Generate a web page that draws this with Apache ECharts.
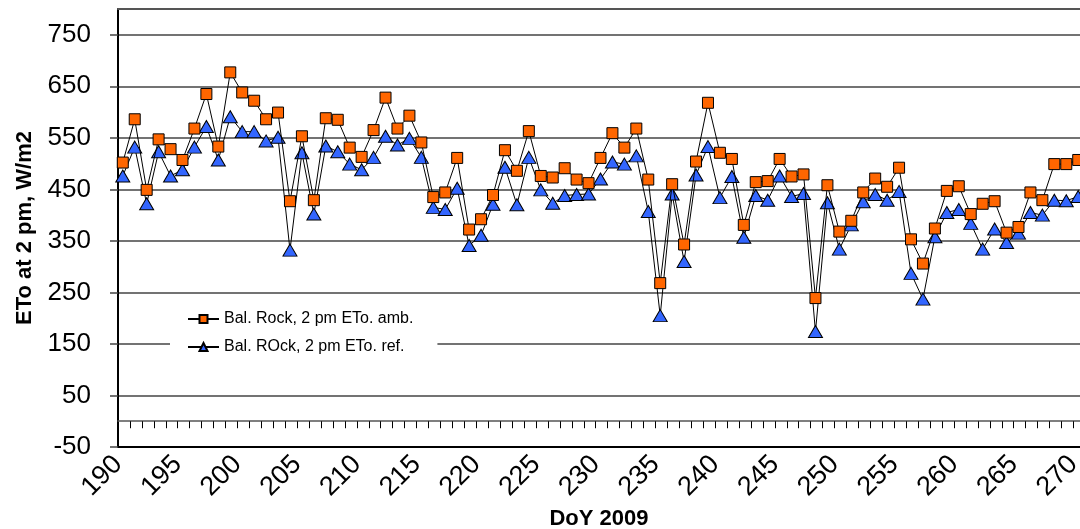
<!DOCTYPE html>
<html>
<head>
<meta charset="utf-8">
<script src="https://cdn.jsdelivr.net/npm/echarts@6/dist/echarts.min.js"></script>
<style>
html,body{margin:0;padding:0;background:#fff;}
#chart{width:1080px;height:529px;}
</style>
</head>
<body>
<div id="chart"></div>
<script>
// day of year, 2009
var days = [190,191,192,193,194,195,196,197,198,199,
	200,201,202,203,204,205,206,207,208,209,
	210,211,212,213,214,215,216,217,218,219,
	220,221,222,223,224,225,226,227,228,229,
	230,231,232,233,234,235,236,237,238,239,
	240,241,242,243,244,245,246,247,248,249,
	250,251,252,253,254,255,256,257,258,259,
	260,261,262,263,264,265,266,267,268,269,270];
// 2 pm reading, fraction of the day as plotted
var timeOfDay = 0.4;

// Bal. Rock, 2 pm ETo, ambient (W/m2)
var etoAmb = [502,586,449,547,528,507,568,635,533,677,
	638,622,586,599,427,553,429,588,585,531,
	513,565,628,568,593,541,435,444,511,372,
	392,439,526,486,563,476,473,491,469,462,
	511,559,531,568,469,268,460,343,504,618,
	521,509,381,464,466,509,475,479,239,458,
	368,389,444,471,455,492,353,306,374,447,
	456,402,422,427,366,377,444,429,499,499,507];
// Bal. ROck, 2 pm ETo, reference (W/m2)
var etoRef = [476,532,422,523,476,488,532,572,507,591,
	562,562,544,551,332,521,402,534,523,499,
	488,512,553,536,549,512,415,411,452,341,
	361,421,493,420,512,449,423,438,440,441,
	470,503,499,515,407,205,441,310,478,533,
	434,475,357,438,429,476,436,442,174,424,
	334,381,426,440,429,446,287,237,358,405,
	411,384,334,373,347,365,405,400,429,428,436];

var yTicks = [-50,50,150,250,350,450,550,650,750];
var xLabels = [190,195,200,205,210,215,220,225,230,235,240,245,250,255,260,265,270];
var dayTicks = days.slice(1);

var font = "'Liberation Sans', Arial, sans-serif";

function pairs(vals){
	var out = [];
	for(var i = 0;i<days.length;i++){
		out.push([days[i] + timeOfDay, vals[i]]);
	}
	return out;
}

var mychart = echarts.init(document.getElementById('chart'), null, {renderer:'canvas'});
var option = {
	animation:false,
	textStyle:{fontFamily:font, color:'#000'},
	grid:{left:118, right:0, top:9, bottom:82, containLabel:false, outerBoundsMode:'none'},
	legend:{
		orient:'vertical',
		left:170,
		top:305,
		padding:[6,24,6,17],
		backgroundColor:'#fff',
		itemWidth:31,
		itemHeight:10,
		itemGap:12,
		textStyle:{fontSize:16, color:'#000', fontFamily:font},
		data:['Bal. Rock, 2 pm ETo. amb.','Bal. ROck, 2 pm ETo. ref.']
	},
	xAxis:[{
		type:'value',
		min:190,
		max:270.55,
		position:'bottom',
		axisLine:{onZero:false, lineStyle:{color:'#000', width:2}},
		axisTick:{show:false},
		axisLabel:{customValues:xLabels, rotate:45, fontSize:27, color:'#000', margin:13, fontFamily:font},
		splitLine:{show:false},
		name:'DoY 2009',
		nameLocation:'middle',
		nameGap:60,
		nameTextStyle:{fontWeight:'bold', fontSize:22, color:'#000', fontFamily:font}
	},{
		// line at zero with the day ticks
		type:'value',
		min:190,
		max:270.55,
		position:'bottom',
		axisLine:{show:true, onZero:true, lineStyle:{color:'#555', width:1.5}},
		axisTick:{show:true, customValues:dayTicks, length:7, lineStyle:{color:'#000', width:1}},
		axisLabel:{show:false},
		splitLine:{show:false}
	},{
		// top border of the plot area
		type:'value',
		min:190,
		max:270.55,
		position:'top',
		axisLine:{show:true, onZero:false, lineStyle:{color:'#555', width:2}},
		axisTick:{show:false},
		axisLabel:{show:false},
		splitLine:{show:false}
	}],
	yAxis:{
		type:'value',
		min:-50,
		max:800,
		interval:100,
		axisLine:{show:true, lineStyle:{color:'#000', width:2}},
		axisTick:{show:true, customValues:yTicks, length:8, lineStyle:{color:'#444', width:1.5}},
		axisLabel:{customValues:yTicks, fontSize:26, margin:27, color:'#000', fontFamily:font},
		splitLine:{show:true, lineStyle:{color:'#444', width:1.5}},
		name:'ETo at 2 pm, W/m2',
		nameLocation:'middle',
		nameGap:82,
		nameTextStyle:{fontWeight:'bold', fontSize:22, color:'#000', fontFamily:font}
	},
	series:[{
		name:'Bal. Rock, 2 pm ETo. amb.',
		type:'line',
		xAxisIndex:0,
		data:pairs(etoAmb),
		symbol:'rect',
		symbolSize:11,
		showSymbol:true,
		lineStyle:{color:'#000', width:1},
		itemStyle:{color:'#FF6600', borderColor:'#000', borderWidth:1},
		z:4
	},{
		name:'Bal. ROck, 2 pm ETo. ref.',
		type:'line',
		xAxisIndex:0,
		data:pairs(etoRef),
		symbol:'triangle',
		symbolSize:[14,12],
		showSymbol:true,
		lineStyle:{color:'#000', width:1},
		itemStyle:{color:'#3366FF', borderColor:'#000', borderWidth:1},
		z:3
	}]
};
mychart.setOption(option);
</script>
</body>
</html>
